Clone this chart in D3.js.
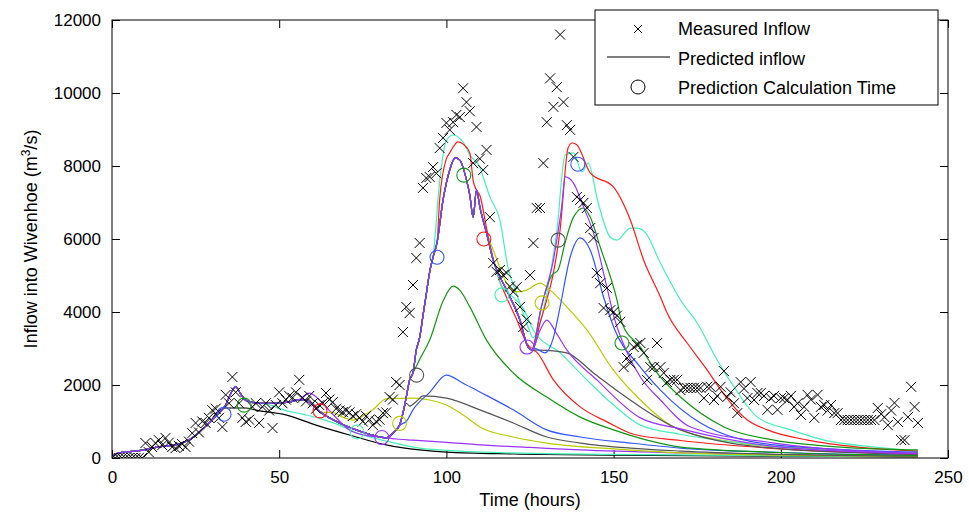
<!DOCTYPE html>
<html>
<head>
<meta charset="utf-8">
<script src="https://cdn.jsdelivr.net/npm/d3@7"></script>
<style>
body { margin: 0; background: #fff; }
text { font-family: "Liberation Sans", Arial, sans-serif; }
</style>
</head>
<body>
<div id="chart"></div>
<script>
// measured inflow, one value per hour starting at t = 0
const measured = [
  0,0,0,0,0,0,0,0,0,0,
  410,160,300,410,490,350,550,420,300,270,
  330,380,300,450,680,960,700,1000,960,1100,
  1310,1350,1100,850,1730,1500,2220,1800,1500,1100,
  990,1050,1400,1500,960,1400,1500,1300,820,1450,
  1800,1500,1600,1700,1650,1800,2140,1650,1550,1700,
  1500,1350,1450,1500,1780,1600,1530,1350,1300,1260,
  1300,1250,1150,1200,1100,1000,1150,1050,900,1000,
  1050,1230,1250,1670,1600,2080,2000,3450,4140,3970,
  4740,5480,5890,7400,7670,7700,7970,7800,8490,8770,
  9180,8990,9200,9400,9340,10130,9750,9500,8080,9070,
  8200,7890,8440,6600,5340,5100,5150,5010,5070,4700,
  4550,4680,4140,3590,3800,5010,5890,6850,6850,8080,
  9200,10400,9620,10160,11600,9750,9120,8990,8250,7150,
  7070,6990,6850,6300,6030,5070,4790,4110,4660,4050,
  4000,3900,3730,2490,2740,2600,3040,3100,3150,2880,
  2140,2490,2490,3150,2490,2330,2080,2140,2140,2140,
  1860,1920,1920,1920,1920,1920,1920,1640,1950,1950,
  1590,1700,1950,2380,1670,1800,1500,1230,2080,1900,
  1640,2080,1590,1780,1780,1700,1320,1640,1700,1320,
  1640,1640,1590,1700,1400,1500,1180,1400,1730,1600,
  1100,1730,1400,1450,1300,1450,1230,1230,1040,1040,
  1040,1040,1040,1040,1040,1040,1040,1040,1040,1370,
  1200,1120,900,1300,1510,990,490,490,1120,1950,
  1400,960
];

// common hindcast path shared by all predictions before they split
const hindcast = [
  [0,40],[2,140],[6,180],[10,230],[12,270],[16,330],[19,360],[22,450],[24,550],[26,700],
  [29,960],[32,1230],[34,1450],[35.6,1780],[37,1950],[38.5,1750],[40,1580],[44,1500],[48,1500],
  [53,1530],[56,1600],[58,1590],[60,1450],[62,1280],[65,1100],[68,960],[73,770],[77,650],
  [80,575],[82,550],[84,680],[86,900],[87,1230],[88,1670],[89,2140],[90,2330],[91,2960],
  [92,3300],[93,3900],[94,4500],[95,5100],[96,5500],[97.2,5900],[99,7070],[101,7890],
  [102.6,8220],[104,8160],[106,7620],[107,7200],[108,6600],[109,7340],[110,6880],[112,6160],
  [114,5420],[118,4600],[122,3780],[124.4,3040],[125.6,2960],[126.5,3230],[128,3970],
  [130,4680],[132,5420],[133,5970],[134.5,6900],[135.5,7700]
];

const forecastColors = [
  "#000000", "#44f0b8", "#9933ff", "#b8cc00", "#3355ff", "#555555", "#129612",
  "#44f0b8", "#ff1a1a", "#b8cc00", "#44f0b8", "#ff1a1a", "#555555", "#9933ff",
  "#3355ff", "#129612", "#9933ff"
];

// predicted values after each forecast leaves the hindcast
const forecastTails = [
  [[32,1300],[34,1370],[40,1370],[43,1310],[52,1180],[61,900],[71,630],[82,360],[92,220],[100,160],[120,110],[150,80],[200,50],[241,30]],
  [[46,1480],[52,1300],[57,1200],[63,1060],[68,900],[73,700],[83,440],[92,270],[100,210],[120,140],[150,100],[200,60],[241,40]],
  [[56,1600],[59,1780],[62,1600],[66,1200],[71,770],[76,620],[80,575],[85,520],[90,490],[100,430],[110,360],[125,290],[140,220],[170,140],[200,90],[241,50]],
  [[63,1250],[66,1250],[69,1120],[72,1040],[75,1150],[78,1320],[82,1620],[90,1640],[95,1590],[100,1450],[105,1180],[110,850],[120,575],[130,410],[150,250],[170,140],[200,80],[241,40]],
  [[86,900],[88,1000],[90,1320],[95,1800],[100,2270],[105,2050],[110,1810],[120,1320],[130,770],[140,575],[155,410],[170,270],[200,150],[241,80]],
  [[88,1500],[89,1420],[91,1550],[93,1700],[100,1640],[110,1320],[120,960],[130,575],[140,410],[155,270],[170,190],[200,100],[241,50]],
  [[90,2330],[92,2700],[95,3230],[99,4300],[102,4710],[104,4600],[107,4140],[112,3230],[120,2330],[130,1670],[140,1120],[150,770],[160,490],[170,300],[200,150],[241,70]],
  [[96,5500],[98,7600],[100,8700],[102,8850],[105,8650],[107,8300],[110,7970],[111,7700],[113,7150],[116,6520],[118.4,5230],[121,4500],[124,3700],[126,3300],[128,3700],[131,5000],[133,6200],[135.5,8300],[138,8360],[140.5,7840],[142.4,8080],[145.4,6990],[149,6050],[151,5970],[155,6300],[157,6300],[159.4,6190],[164,5340],[170,4330],[175,3700],[181,2680],[186,1950],[193,1120],[203,770],[213,490],[228,300],[241,190]],
  [[98,7100],[100,8200],[101,8360],[103.5,8660],[105,8600],[107,8360],[108,7600],[109,7340],[110,7200],[112,6300],[115,5100],[118,4400],[121,3800],[124,3150],[126,3000],[128,3700],[130,4330],[132,5070],[134,6250],[136.4,8500],[137.6,8630],[139,8580],[143,7810],[150,7420],[155,6520],[159,5420],[164,4410],[166,3970],[172,3150],[178,2410],[182.7,1780],[190,1040],[196,770],[208,490],[223,300],[241,190]],
  [[112,6160],[114,5700],[118,4800],[121,4550],[124,4600],[128,4790],[131,4600],[136,4140],[142,3510],[150,2400],[158,1590],[168,850],[188,410],[210,250],[241,140]],
  [[116,4800],[120,4400],[123,4100],[126,3500],[134,2880],[142,2140],[150,1450],[158,900],[170,650],[200,300],[241,120]],
  [[124.4,3040],[127,2900],[132,2140],[140,1400],[148,990],[156,650],[170,480],[200,250],[241,100]],
  [[125.6,2960],[130,2950],[136,2880],[144,2330],[152,1780],[158,1400],[170,770],[200,250],[241,100]],
  [[125.6,2960],[128,3500],[130,3780],[133,3400],[136,2960],[145,2140],[158,1100],[170,800],[200,300],[241,120]],
  [[126.5,3000],[129.5,2880],[132,3300],[134,4140],[137,5500],[140,6030],[143,5700],[147,4410],[150,3590],[158,2490],[164,1860],[176,960],[198,360],[241,160]],
  [[130,4680],[131.5,5000],[133.4,5150],[135.5,5900],[138,6600],[141,6850],[143,6600],[146,5780],[151,4330],[152.5,3700],[158,3040],[163,2330],[170,1670],[183,850],[198,490],[218,300],[241,220]],
  [[135.5,7700],[138,7530],[141,6880],[144,6160],[148,4680],[150,3900],[154,2900],[158,2220],[164,1590],[173,850],[198,410],[241,130]]
];

// prediction calculation times
const calcTimes  = [33.5, 39.5, 62.2, 73.3, 80.7, 86, 91.1, 97.2, 105.2, 111.2, 116.6, 124.1, 128.6, 133.4, 139.3, 152.5];
const calcValues = [1200, 1450, 1290, 712, 560, 950, 2270, 5500, 7750, 6000, 4470, 3040, 4250, 5970, 8050, 3150];
const calcColors = ["#3355ff", "#129612", "#ff1a1a", "#44f0b8", "#9933ff", "#b8cc00", "#555555", "#3355ff",
                    "#129612", "#ff1a1a", "#44f0b8", "#9933ff", "#b8cc00", "#555555", "#3355ff", "#129612"];

const xTicks = [0, 50, 100, 150, 200, 250];
const yTicks = [0, 2000, 4000, 6000, 8000, 10000, 12000];

const width = 969, height = 516;
const plotLeft = 112, plotRight = 948, plotTop = 20, plotBottom = 458;

const svg = d3.select("#chart").append("svg")
    .attr("width", width)
    .attr("height", height);

const x = d3.scaleLinear().domain([0, 250]).range([plotLeft, plotRight]);
const y = d3.scaleLinear().domain([0, 12000]).range([plotBottom, plotTop]);

svg.append("clipPath").attr("id", "clip")
  .append("rect")
    .attr("x", plotLeft).attr("y", plotTop)
    .attr("width", plotRight - plotLeft).attr("height", plotBottom - plotTop);

// axes, ticks pointing inward like the original
const axisStyle = g => {
    g.select(".domain").remove();
    g.selectAll("line").attr("stroke", "#000");
    g.selectAll("text").attr("font-size", 17).attr("fill", "#000");
};

svg.append("g")
    .attr("transform", `translate(0,${plotBottom})`)
    .call(d3.axisBottom(x).tickValues(xTicks).tickSize(-8).tickPadding(13).tickFormat(d3.format("d")))
    .call(axisStyle);
svg.append("g")
    .attr("transform", `translate(0,${plotTop})`)
    .call(d3.axisTop(x).tickValues(xTicks).tickSize(-8).tickFormat(""))
    .call(axisStyle);
svg.append("g")
    .attr("transform", `translate(${plotLeft},0)`)
    .call(d3.axisLeft(y).tickValues(yTicks).tickSize(-8).tickPadding(11).tickFormat(d3.format("d")))
    .call(axisStyle);
svg.append("g")
    .attr("transform", `translate(${plotRight},0)`)
    .call(d3.axisRight(y).tickValues(yTicks).tickSize(-8).tickFormat(""))
    .call(axisStyle);

const plot = svg.append("g").attr("clip-path", "url(#clip)");

const line = d3.line()
    .x(d => x(d[0]))
    .y(d => y(d[1]))
    .curve(d3.curveMonotoneX);

// each prediction = hindcast up to its split point, then its own tail
forecastTails.forEach((tail, i) => {
    const t0 = tail[0][0];
    const pts = hindcast.filter(d => d[0] < t0).concat(tail);
    plot.append("path")
        .attr("d", line(pts))
        .attr("fill", "none")
        .attr("stroke", forecastColors[i])
        .attr("stroke-width", 1.2);
});

// measured inflow crosses
const cross = "M-5,-5L5,5M5,-5L-5,5";
plot.append("g")
    .selectAll("path")
    .data(measured)
    .join("path")
    .attr("transform", (d, i) => `translate(${x(i)},${y(d)})`)
    .attr("d", cross)
    .attr("stroke", "#000")
    .attr("stroke-width", 1);

// calculation time circles
plot.append("g")
    .selectAll("circle")
    .data(calcTimes)
    .join("circle")
    .attr("cx", d => x(d))
    .attr("cy", (d, i) => y(calcValues[i]))
    .attr("r", 7)
    .attr("fill", "none")
    .attr("stroke", (d, i) => calcColors[i])
    .attr("stroke-width", 1.1);

// frame
svg.append("rect")
    .attr("x", plotLeft).attr("y", plotTop)
    .attr("width", plotRight - plotLeft).attr("height", plotBottom - plotTop)
    .attr("fill", "none")
    .attr("stroke", "#000")
    .attr("stroke-width", 1);

// axis titles
svg.append("text")
    .attr("x", (plotLeft + plotRight) / 2)
    .attr("y", 506)
    .attr("text-anchor", "middle")
    .attr("font-size", 18)
    .text("Time (hours)");

const yTitle = svg.append("text")
    .attr("transform", `translate(37,${(plotTop + plotBottom) / 2}) rotate(-90)`)
    .attr("text-anchor", "middle")
    .attr("font-size", 18);
yTitle.append("tspan").text("Inflow into Wivenhoe (m");
yTitle.append("tspan").attr("font-size", 12).attr("dy", -7).text("3");
yTitle.append("tspan").attr("dy", 7).text("/s)");

// legend
const legend = svg.append("g");
legend.append("rect")
    .attr("x", 595).attr("y", 10)
    .attr("width", 343).attr("height", 95)
    .attr("fill", "#fff")
    .attr("stroke", "#000")
    .attr("stroke-width", 1);
legend.append("path")
    .attr("transform", "translate(638,29)")
    .attr("d", "M-4,-4L4,4M4,-4L-4,4")
    .attr("stroke", "#000");
legend.append("line")
    .attr("x1", 607).attr("x2", 670)
    .attr("y1", 57).attr("y2", 57)
    .attr("stroke", "#000");
legend.append("circle")
    .attr("cx", 638).attr("cy", 87).attr("r", 7)
    .attr("fill", "none").attr("stroke", "#000");
const legendLabels = ["Measured Inflow", "Predicted inflow", "Prediction Calculation Time"];
legend.selectAll("text.lab")
    .data(legendLabels)
    .join("text")
    .attr("class", "lab")
    .attr("x", 678)
    .attr("y", (d, i) => 35 + i * 29.5)
    .attr("font-size", 18)
    .text(d => d);
</script>
</body>
</html>
